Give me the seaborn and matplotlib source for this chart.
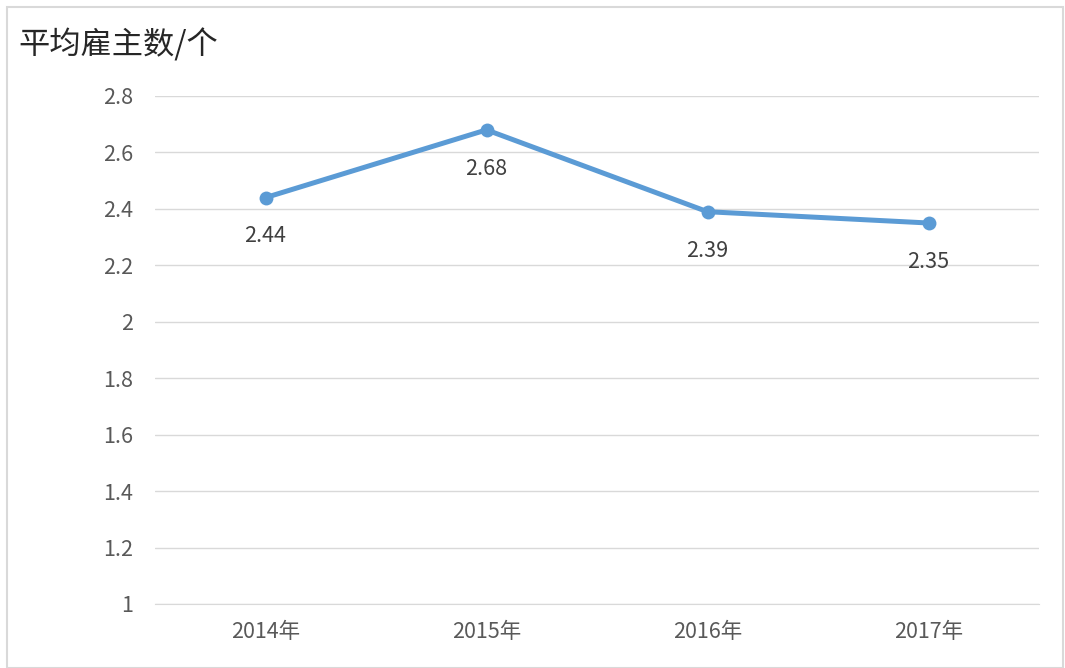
import matplotlib
matplotlib.use("Agg")
import matplotlib.pyplot as plt
import seaborn as sns
import pandas as pd
from matplotlib.patches import Rectangle

categories = ["2014年", "2015年", "2016年", "2017年"]
values = [2.44, 2.68, 2.39, 2.35]
yticks = [1, 1.2, 1.4, 1.6, 1.8, 2, 2.2, 2.4, 2.6, 2.8]
ytick_labels = ["1", "1.2", "1.4", "1.6", "1.8", "2", "2.2", "2.4", "2.6", "2.8"]
title = "平均雇主数/个"

sns.set_style("white")
plt.rcParams['font.family'] = ['Noto Sans CJK SC', 'DejaVu Sans']

df = pd.DataFrame({"cat": categories, "val": values})

fig = plt.figure(figsize=(10.65, 6.68), dpi=100)
fig.patches.append(Rectangle((7/1065, 0.0), (1063-7)/1065, 1-7/668, transform=fig.transFigure,
                             fill=False, edgecolor="#D9D9D9", linewidth=1.5))
ax = fig.add_axes([155/1065, 1-604/668, (1039-155)/1065, (604-96)/668])

sns.lineplot(data=df, x="cat", y="val", ax=ax, color="#5B9BD5", linewidth=3.6,
             marker="o", markersize=10, markeredgewidth=0, sort=False)

ax.set_xlim(-0.5, len(categories) - 0.5)
ax.set_ylim(1, 2.8)
ax.set_yticks(yticks)
ax.set_yticklabels(ytick_labels)
ax.yaxis.grid(True, color="#D9D9D9", linewidth=1)
ax.set_axisbelow(True)
for s in ax.spines.values():
    s.set_visible(False)
ax.spines['bottom'].set_visible(True)
ax.spines['bottom'].set_color("#D9D9D9")
ax.tick_params(axis='both', length=0, labelsize=15.5, labelcolor="#595959")
ax.tick_params(axis='y', pad=16)
ax.tick_params(axis='x', pad=12)
ax.set_xlabel("")
ax.set_ylabel("")

for i, v in enumerate(values):
    ax.annotate(f"{v:.2f}", (i, v), xytext=(0, -28), textcoords="offset points",
                ha="center", va="center", fontsize=15.5, color="#404040")

fig.text(18/1065, 1-45/668, title, fontsize=22.5, color="#262626", ha="left", va="center")

fig.savefig("out.png", dpi=100)
